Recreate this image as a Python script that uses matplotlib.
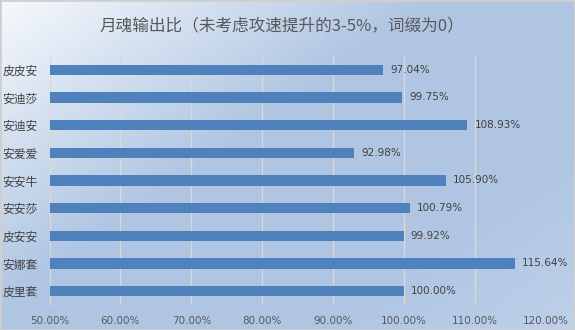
import numpy as np
import matplotlib
matplotlib.use("Agg")
import matplotlib.pyplot as plt
from matplotlib.colors import LinearSegmentedColormap

plt.rcParams['font.family'] = ['Noto Sans CJK SC', 'DejaVu Sans']

# data (top to bottom)
names = ['皮皮安', '安迪莎', '安迪安', '安爱爱', '安安牛', '安安莎', '皮安安', '安娜套', '皮里套']
values = [97.04, 99.75, 108.93, 92.98, 105.90, 100.79, 99.92, 115.64, 100.00]
xticks = [50, 60, 70, 80, 90, 100, 110, 120]
title = '月魂输出比（未考虑攻速提升的3-5%，词缀为0）'

W, H = 575, 330
fig = plt.figure(figsize=(W / 100, H / 100), dpi=100)

# background gradient over the whole figure
bg = fig.add_axes([0, 0, 1, 1], zorder=-10)
gx, gy = np.meshgrid(np.linspace(0, 1, W), np.linspace(0, 1, H))
t = (gx * 0.55 + gy * 0.45)
cmap = LinearSegmentedColormap.from_list(
    'bg', [(0, '#f6f9fd'), (0.42, '#afc5e2'), (0.75, '#afc5e2'), (1, '#bed1ea')])
bg.imshow(t, cmap=cmap, aspect='auto', extent=[0, 1, 0, 1], origin='upper', vmin=0, vmax=1)
bg.plot([0, 1, 1, 0, 0], [0, 0, 1, 1, 0], color='#cfcfcf', lw=2, transform=bg.transAxes)
bg.set_xlim(0, 1)
bg.set_ylim(0, 1)
bg.axis('off')

ax = fig.add_axes([49.5 / W, 1 - 305 / H, (546 - 49.5) / W, (305 - 56) / H])
ax.patch.set_alpha(0)

y = np.arange(len(names))
ax.barh(y, values, height=0.38, color='#4f81bd', zorder=3, left=0)
ax.set_xlim(50, 120)
ax.set_ylim(len(names) - 0.5, -0.5)

for yi, v in zip(y, values):
    ax.text(v + 1.0, yi, f'{v:.2f}%', va='center', ha='left', fontsize=7.5,
            color='#404040', family=['DejaVu Sans'], zorder=4)

ax.set_xticks(xticks)
ax.set_xticklabels([f'{v:.2f}%' for v in xticks], fontsize=7.5, color='#595959',
                   family=['DejaVu Sans'])
ax.grid(axis='x', color='#d9d9d9', lw=1, zorder=0)
ax.tick_params(axis='x', length=0, pad=8)

ax.set_yticks(y)
ax.set_yticklabels(names, fontsize=8.5, color='#404040')
for lab in ax.get_yticklabels():
    lab.set_ha('left')
ax.tick_params(axis='y', length=0, pad=34)

for s in ['top', 'right', 'bottom']:
    ax.spines[s].set_visible(False)
ax.spines['left'].set_color('#d9d9d9')

fig.text(282 / W, 1 - 26 / H, title, ha='center', va='center', fontsize=12, color='#595959')

fig.savefig('out.png', dpi=100)
